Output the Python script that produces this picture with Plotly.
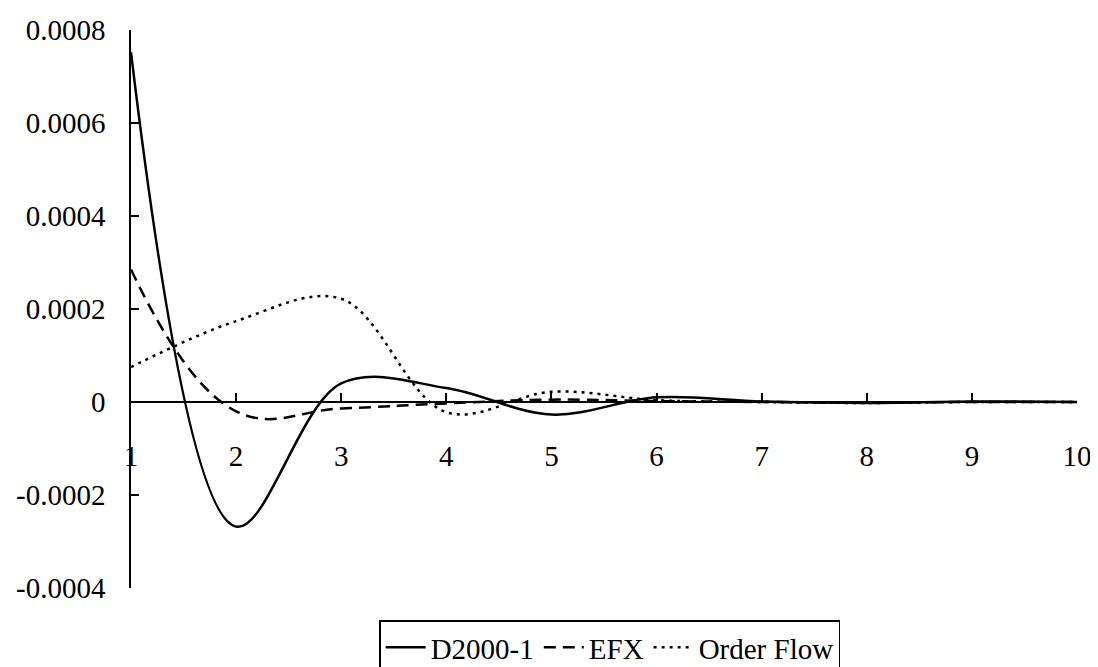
import plotly.graph_objects as go

periods = [1, 2, 3, 4, 5, 6, 7, 8, 9, 10]
d2000 = [0.000752, -0.000268, 0.00004, 0.00003, -0.000027, 0.00001, 0.000001, -0.000002, 0.000001, 0.0]
efx = [0.000285, -0.00002, -0.000014, -0.000003, 0.000005, 0.000002, 0.0, -0.000001, 0.0, 0.0]
order_flow = [0.000075, 0.000174, 0.000222, -0.000022, 0.000022, 0.000004, 0.0, -0.000002, 0.0, 0.0]

y_ticks = [-0.0004, -0.0002, 0, 0.0002, 0.0004, 0.0006, 0.0008]
y_tick_text = ["-0.0004", "-0.0002", "0", "0.0002", "0.0004", "0.0006", "0.0008"]
x_tick_text = [str(p) for p in periods]

FONT = "Liberation Serif"
SMOOTH = 1.0

fig = go.Figure()
fig.add_trace(go.Scatter(x=periods, y=d2000, mode="lines", name="D2000-1",
                         line=dict(color="black", width=2.5, shape="spline", smoothing=SMOOTH)))
fig.add_trace(go.Scatter(x=periods, y=efx, mode="lines", name="EFX",
                         line=dict(color="black", width=2.5, shape="spline", smoothing=1.2, dash="12px,7px")))
fig.add_trace(go.Scatter(x=periods, y=order_flow, mode="lines", name="Order Flow",
                         line=dict(color="black", width=2.5, shape="spline", smoothing=SMOOTH, dash="3px,5px")))

# page body has an 8px margin: figure is sized so the plot sits at the same pixels as the reference
fig.update_layout(
    width=1090, height=659,
    margin=dict(l=123, r=21, t=22, b=79, autoexpand=False),
    paper_bgcolor="white", plot_bgcolor="white",
    font=dict(family=FONT, size=29, color="black"),
    showlegend=True,
    legend=dict(orientation="h", x=0.506, xanchor="center", y=-0.058, yanchor="top",
                bordercolor="black", borderwidth=1.5, bgcolor="white",
                font=dict(family=FONT, size=29, color="black"),
                itemwidth=40, tracegroupgap=0),
    xaxis=dict(range=[1, 10], tickvals=periods, ticktext=x_tick_text,
               showgrid=False, zeroline=False, showline=True, linecolor="black", linewidth=1.5,
               ticks="inside", ticklen=8, tickwidth=1.5, tickcolor="black",
               anchor="free", position=1/3, ticklabelstandoff=28,
               tickfont=dict(family=FONT, size=29, color="black")),
    yaxis=dict(range=[-0.0004, 0.0008], tickvals=y_ticks, ticktext=y_tick_text,
               showgrid=False, zeroline=False, showline=True, linecolor="black", linewidth=1.5,
               ticks="inside", ticklen=8, tickwidth=1.5, tickcolor="black",
               ticklabelstandoff=18,
               tickfont=dict(family=FONT, size=29, color="black")),
)

fig.write_html("out.html")
